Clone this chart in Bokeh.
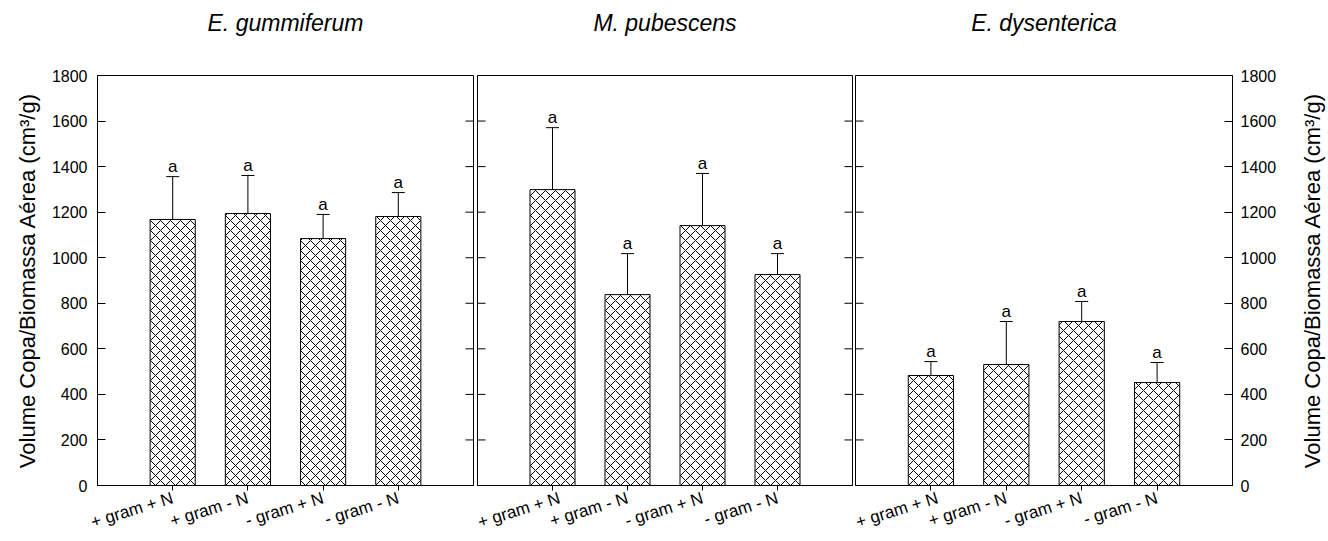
import math
from bokeh.plotting import figure
from bokeh.layouts import row
from bokeh.models import (Range1d, FixedTicker, LinearAxis, ColumnDataSource, Whisker,
                          TeeHead)
from bokeh.core.properties import value
from bokeh.embed import file_html
from bokeh.resources import INLINE

species = ["E. gummiferum", "M. pubescens", "E. dysenterica"]
treatments = ["+ gram + N", "+ gram - N", "- gram + N", "- gram - N"]

means_gummiferum = [1168, 1194, 1084, 1181]
errors_gummiferum = [188, 167, 106, 105]
letters_gummiferum = ["a", "a", "a", "a"]

means_pubescens = [1299, 838, 1141, 926]
errors_pubescens = [272, 180, 229, 92]
letters_pubescens = ["a", "a", "a", "a"]

means_dysenterica = [483, 531, 720, 452]
errors_dysenterica = [61, 189, 88, 88]
letters_dysenterica = ["a", "a", "a", "a"]

y_ticks = [0, 200, 400, 600, 800, 1000, 1200, 1400, 1600, 1800]
y_label = "Volume Copa/Biomassa A\u00e9rea (cm\u00b3/g)"

FONT = "Liberation Sans"
Y_MAX = 1800
LABEL_SIZE = "22px"
FRAME_H = 410
TOP = 75
BOTTOM = 56


def label_only_axis(text, standoff, italic=False, size=LABEL_SIZE):
    ax = LinearAxis(ticker=FixedTicker(ticks=[]))
    ax.axis_line_color = None
    ax.major_tick_line_color = None
    ax.minor_tick_line_color = None
    ax.major_tick_in = 0
    ax.major_tick_out = 0
    ax.minor_tick_in = 0
    ax.minor_tick_out = 0
    ax.major_label_standoff = 0
    ax.axis_label = text
    ax.axis_label_text_font = FONT
    ax.axis_label_text_font_size = size
    ax.axis_label_text_font_style = "italic" if italic else "normal"
    ax.axis_label_text_color = "black"
    ax.axis_label_standoff = standoff
    return ax


def style_y_axis(ax, side):
    ax.ticker = FixedTicker(ticks=y_ticks)
    ax.major_tick_in = 8
    ax.major_tick_out = 0
    ax.minor_tick_in = 0
    ax.minor_tick_out = 0
    ax.axis_line_color = "black"
    ax.major_tick_line_color = "black"
    ax.major_label_text_font = FONT
    ax.major_label_text_font_size = "16px"
    ax.major_label_text_color = "black"
    if side == "left":
        ax.major_label_standoff = 10
        ax.axis_label = y_label
        ax.axis_label_text_font = FONT
        ax.axis_label_text_font_size = LABEL_SIZE
        ax.axis_label_text_font_style = "normal"
        ax.axis_label_text_color = "black"
        ax.axis_label_standoff = 9
    else:
        ax.major_label_standoff = 8
        ax.axis_label = None


def make_panel(title, means, errors, letters, fw, bl, br, left_axis, right_axis):
    xs = list(range(1, len(treatments) + 1))
    x_end = len(treatments) + 1
    p = figure(frame_width=fw, frame_height=FRAME_H,
               x_range=Range1d(0, x_end), y_range=Range1d(0, Y_MAX),
               output_backend="svg", toolbar_location=None,
               y_axis_location=None,
               min_border_left=bl, min_border_right=br,
               min_border_top=TOP, min_border_bottom=BOTTOM)
    p.outline_line_color = "black"
    p.outline_line_alpha = 1
    p.outline_line_width = 1
    p.background_fill_color = "white"
    p.border_fill_color = "white"
    p.xgrid.visible = False
    p.ygrid.visible = False

    xa = p.below[0]
    xa.ticker = FixedTicker(ticks=xs)
    xa.major_label_overrides = {x: t for x, t in zip(xs, treatments)}
    xa.major_tick_in = 0
    xa.major_tick_out = 5
    xa.minor_tick_in = 0
    xa.minor_tick_out = 0
    xa.axis_line_color = "black"
    xa.major_label_orientation = 0.3
    xa.major_label_text_font = FONT
    xa.major_label_text_font_size = "17px"
    xa.major_label_text_color = "black"
    xa.major_label_standoff = 7

    p.add_layout(label_only_axis(title, 40, italic=True, size="23px"), "above")

    if left_axis:
        la = LinearAxis()
        style_y_axis(la, "left")
        p.add_layout(la, "left")
    else:
        p.ray(x=[0] * len(y_ticks), y=y_ticks, length=8, length_units="screen",
              angle=0, line_color="black", line_width=1)
    if right_axis:
        ra = LinearAxis()
        style_y_axis(ra, "right")
        p.add_layout(ra, "right")
    else:
        p.ray(x=[x_end] * len(y_ticks), y=y_ticks, length=8, length_units="screen",
              angle=math.pi, line_color="black", line_width=1)

    upper = [m + e for m, e in zip(means, errors)]
    src = ColumnDataSource(dict(x=xs, top=means, upper=upper, letters=letters))
    p.vbar(x="x", top="top", width=0.6, source=src, fill_color="white",
           line_color="black", line_width=1,
           hatch_pattern="x", hatch_color="black", hatch_scale=10, hatch_weight=1)
    w = Whisker(base="x", lower="top", upper="upper", source=src,
                upper_head=TeeHead(size=13, line_color="black", line_width=1),
                lower_head=TeeHead(size=0, line_alpha=0),
                line_color="black", line_width=1)
    p.add_layout(w)
    p.text(x="x", y="upper", text="letters", source=src, text_align="center",
           text_baseline="alphabetic", y_offset=-10, text_font=value(FONT),
           text_font_size="17px", text_color="black")
    return p


p1 = make_panel(species[0], means_gummiferum, errors_gummiferum, letters_gummiferum,
                376, 97, 2, True, False)
p2 = make_panel(species[1], means_pubescens, errors_pubescens, letters_pubescens,
                375, 2, 1, False, False)
p3 = make_panel(species[2], means_dysenterica, errors_dysenterica, letters_dysenterica,
                377, 2, 50, False, True)

# narrow strip that carries the right-hand axis title, reading bottom to top
p4 = figure(frame_width=1, frame_height=FRAME_H, x_range=Range1d(0, 1),
            y_range=Range1d(0, Y_MAX), output_backend="svg", toolbar_location=None,
            x_axis_location=None, y_axis_location=None,
            min_border_left=44, min_border_right=1,
            min_border_top=TOP, min_border_bottom=BOTTOM)
p4.outline_line_color = None
p4.background_fill_color = "white"
p4.border_fill_color = "white"
p4.grid.visible = False
p4.add_layout(label_only_axis(y_label, 2), "left")

layout = row(p1, p2, p3, p4, spacing=0)
open("out.html", "w").write(file_html(layout, INLINE))
